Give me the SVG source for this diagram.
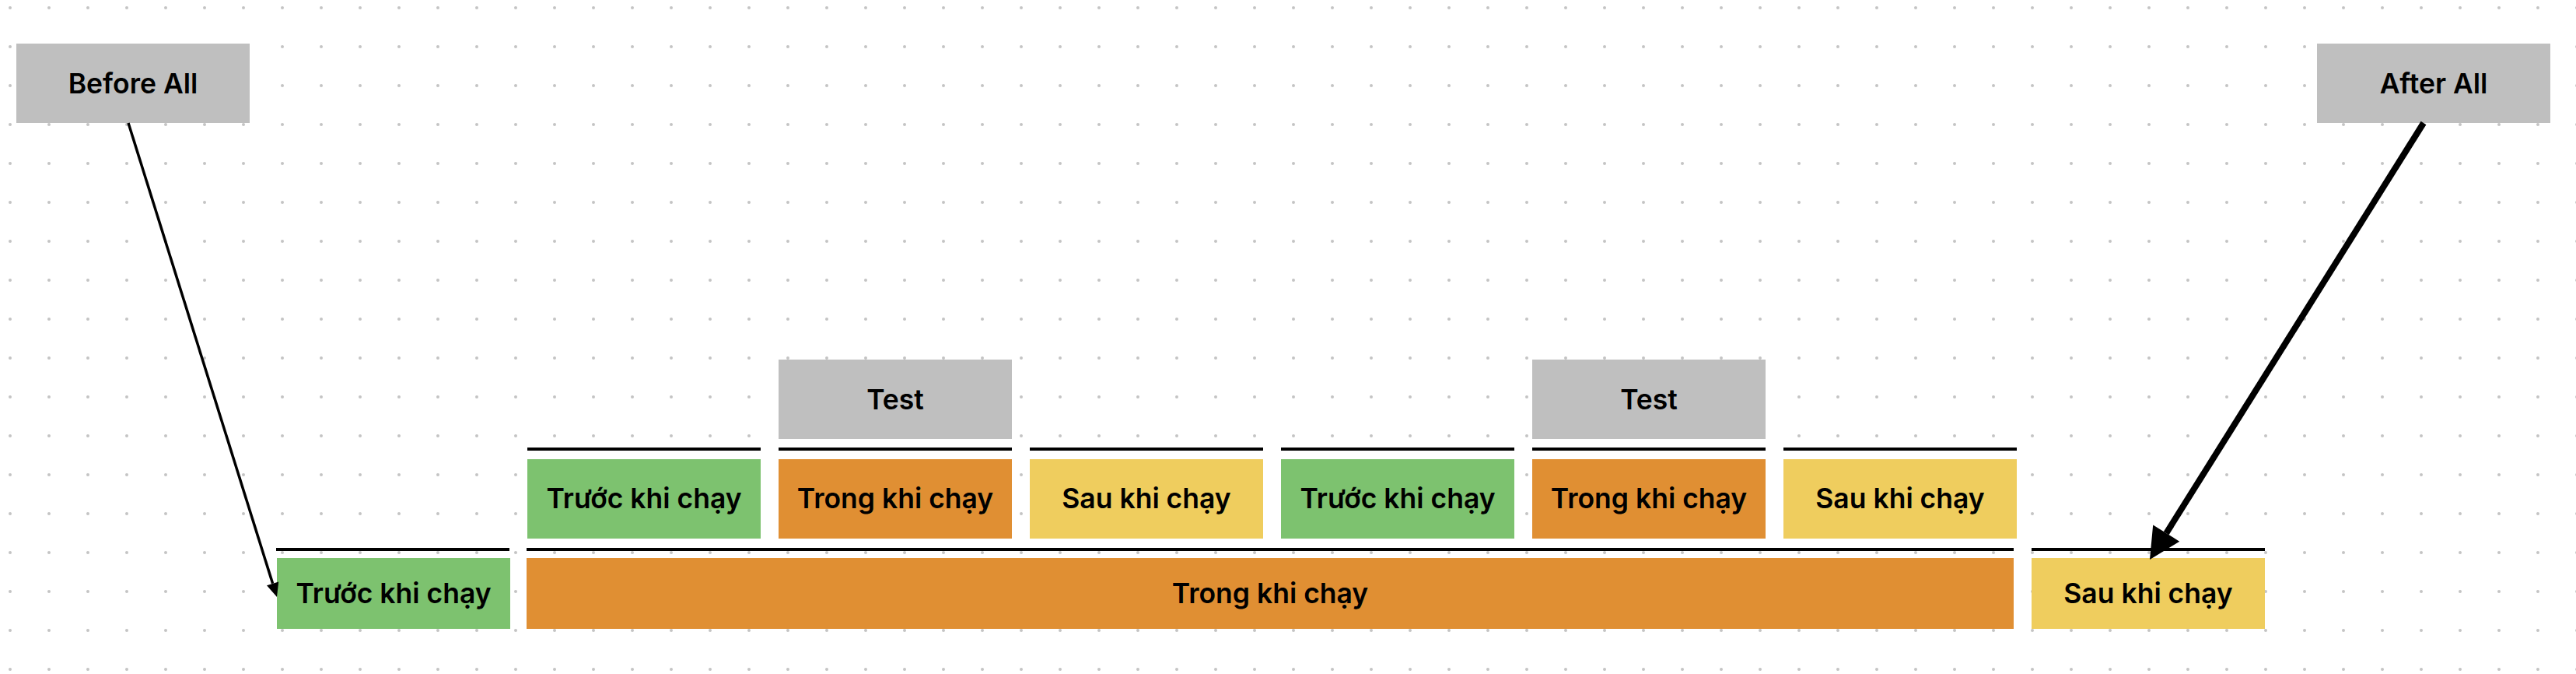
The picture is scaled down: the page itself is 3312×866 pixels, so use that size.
<svg xmlns="http://www.w3.org/2000/svg" width="3312" height="866" viewBox="0 0 3312 866">
  <defs>
    <pattern id="dots" patternUnits="userSpaceOnUse" x="-12" y="-15" width="50" height="50">
      <circle cx="25" cy="25" r="2" fill="#c4c4c4"/>
    </pattern>
    <style>
      .gray { fill: #bfbfbf; }
      .green { fill: #7dc26f; }
      .orange { fill: #e08f33; }
      .yellow { fill: #efcd5e; }
      .bar { stroke: #000; stroke-width: 4; fill: none; }
      text { font-family: Inter, "Liberation Sans", Arial, sans-serif; font-weight: 600; font-size: 35.5px; fill: #000; text-anchor: middle; }
    </style>
  </defs>
  <rect width="3312" height="866" fill="#ffffff"/>
  <rect width="3312" height="866" fill="url(#dots)"/>

  <g id="before-all"><rect class="gray" x="21" y="56" width="300" height="102"/><text x="171" y="120">Before All</text></g>
  <g id="after-all"><rect class="gray" x="2979" y="56" width="300" height="102"/><text x="3129" y="120">After All</text></g>
  <g id="test-1"><rect class="gray" x="1001" y="462" width="300" height="102"/><text x="1151" y="526">Test</text></g>
  <g id="test-2"><rect class="gray" x="1970" y="462" width="300" height="102"/><text x="2120" y="526">Test</text></g>

  <g id="before-1"><line class="bar" x1="678" y1="577" x2="978" y2="577"/><rect class="green" x="678" y="590" width="300" height="102"/><text x="828" y="653">Trước khi chạy</text></g>
  <g id="during-1"><line class="bar" x1="1001" y1="577" x2="1301" y2="577"/><rect class="orange" x="1001" y="590" width="300" height="102"/><text x="1151" y="653">Trong khi chạy</text></g>
  <g id="after-1"><line class="bar" x1="1324" y1="577" x2="1624" y2="577"/><rect class="yellow" x="1324" y="590" width="300" height="102"/><text x="1474" y="653">Sau khi chạy</text></g>
  <g id="before-2"><line class="bar" x1="1647" y1="577" x2="1947" y2="577"/><rect class="green" x="1647" y="590" width="300" height="102"/><text x="1797" y="653">Trước khi chạy</text></g>
  <g id="during-2"><line class="bar" x1="1970" y1="577" x2="2270" y2="577"/><rect class="orange" x="1970" y="590" width="300" height="102"/><text x="2120" y="653">Trong khi chạy</text></g>
  <g id="after-2"><line class="bar" x1="2293" y1="577" x2="2593" y2="577"/><rect class="yellow" x="2293" y="590" width="300" height="102"/><text x="2443" y="653">Sau khi chạy</text></g>

  <g id="before-main"><line class="bar" x1="355" y1="706" x2="655" y2="706"/><rect class="green" x="356" y="717" width="300" height="91"/><text x="506" y="775">Trước khi chạy</text></g>
  <g id="during-main"><line class="bar" x1="677" y1="706" x2="2589" y2="706"/><rect class="orange" x="677" y="717" width="1912" height="91"/><text x="1633" y="775">Trong khi chạy</text></g>
  <g id="after-main"><line class="bar" x1="2612" y1="706" x2="2912" y2="706"/><rect class="yellow" x="2612" y="717" width="300" height="91"/><text x="2762" y="775">Sau khi chạy</text></g>

  <g id="connectors">
    <line x1="165" y1="158" x2="350.6" y2="749.8" stroke="#000" stroke-width="3.5"/>
    <polygon points="356,767 343,752.2 358.2,747.4" fill="#000"/>
    <line x1="3116" y1="158" x2="2785.2" y2="685.1" stroke="#000" stroke-width="8"/>
    <polygon points="2764,719 2802.2,695.7 2768.2,674.5" fill="#000"/>
  </g>
</svg>
